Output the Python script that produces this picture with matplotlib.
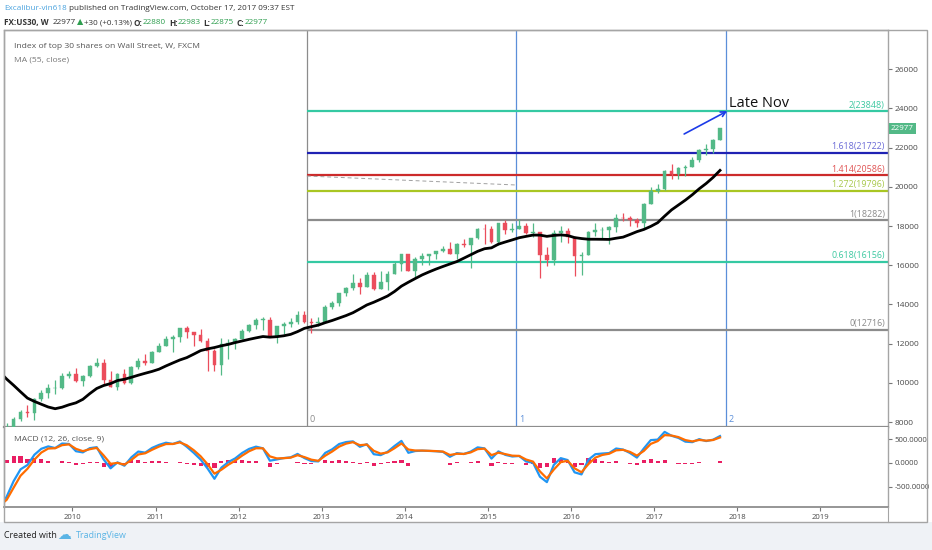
#!/usr/bin/env python3

"""US30 weekly chart with fib extension levels, MA(55) and MACD panel."""

import matplotlib
matplotlib.use("Agg")
import matplotlib.pyplot as plt
import numpy as np
import pandas as pd
from matplotlib import font_manager
from matplotlib.patches import Rectangle

# pick a narrow face if there is one, the screenshot text is squeezed
names = {f.name for f in font_manager.fontManager.ttflist}
face = "Open Sans"
for cand in ["Liberation Sans Narrow", "DejaVu Sans Condensed"]:
    if cand in names:
        face = cand
        break
plt.rcParams["font.family"] = [face, "DejaVu Sans"]

# closes before the visible window, only used to warm up MA / MACD (Jan 2008 - Feb 2009)
hist_closes = [12650, 12266, 12263, 12820, 12638, 11350, 11378, 11544, 10851, 9325,
               8829, 8776, 8001, 7063]

# monthly candles, Mar 2009 - Oct 2017
opens = [7063, 7609, 8168, 8500, 8447, 9172, 9496, 9712, 9713, 10345,
         10428, 10067, 10325, 10857, 11009, 10137, 9774, 10466, 10015, 10788, 11118, 11006,
         11578, 11892, 12226, 12320, 12811, 12570, 12414, 12143, 11614, 10913, 11955, 12046,
         12218, 12633, 12952, 13212, 13214, 12393, 12880, 13009, 13091, 13437, 13096, 13026,
         13104, 13861, 14054, 14579, 14840, 15116, 14910, 15500, 14810, 15130, 15546, 16086,
         16577, 15699, 16322, 16458, 16581, 16717, 16827, 16563, 17098, 17043, 17391, 17828,
         17823, 17165, 18133, 17776, 17841, 18011, 17620, 17690, 16528, 16285, 17664, 17720,
         17425, 16466, 16517, 17685, 17774, 17787, 17930, 18432, 18401, 18308, 18142, 19124,
         19763, 19864, 20812, 20663, 20941, 21009, 21350, 21891, 21948, 22405]
highs = [7925, 8260, 8590, 8880, 9200, 9630, 9920, 10120, 10480, 10580,
         10730, 10400, 10930, 11260, 11210, 10600, 10520, 10720, 10860, 11250, 11450, 11630,
         12020, 12390, 12420, 12810, 12880, 12580, 12750, 12290, 11720, 12280, 12210, 12300,
         12720, 13000, 13290, 13340, 13340, 12900, 13100, 13330, 13650, 13660, 13290, 13350,
         13970, 14150, 14590, 14890, 15540, 15340, 15640, 15660, 15710, 15720, 16170, 16590,
         16590, 16400, 16630, 16590, 16740, 16980, 17160, 17150, 17350, 17400, 17900, 18100,
         18000, 18160, 18290, 18170, 18350, 18140, 18140, 17700, 16930, 17800, 17980, 17900,
         17430, 16670, 17720, 18170, 17930, 18020, 18620, 18670, 18500, 18400, 19150, 19990,
         20130, 20850, 21170, 21000, 21110, 21530, 21930, 22180, 22420, 22983]
lows = [6470, 7550, 8040, 8230, 8090, 9050, 9250, 9430, 9680, 10240,
        10020, 9840, 10300, 10820, 9870, 9770, 9610, 9940, 9960, 10710, 10930, 11000,
        11560, 11860, 11560, 12090, 12300, 11860, 12090, 10600, 10600, 10400, 11230, 11740,
        12220, 12600, 12760, 12710, 12390, 12040, 12490, 12860, 12980, 13070, 12540, 12880,
        13100, 13780, 13940, 14440, 14760, 14550, 14900, 14760, 14780, 14720, 15530, 15700,
        15690, 15340, 16020, 16010, 16330, 16660, 16560, 16330, 16940, 15860, 17320, 17070,
        17140, 17040, 17600, 17670, 17850, 17580, 17450, 15370, 15940, 16010, 17200, 17130,
        15450, 15500, 16510, 17480, 17330, 17060, 17710, 18270, 17990, 17960, 17880, 19100,
        19680, 19830, 20410, 20380, 20550, 21010, 21280, 21600, 21710, 22400]
closes = [7609, 8168, 8500, 8447, 9172, 9496, 9712, 9713, 10345, 10428,
          10067, 10325, 10857, 11009, 10137, 9774, 10466, 10015, 10788, 11118, 11006, 11578,
          11892, 12226, 12320, 12811, 12570, 12414, 12143, 11614, 10913, 11955, 12046, 12218,
          12633, 12952, 13212, 13214, 12393, 12880, 13009, 13091, 13437, 13096, 13026, 13104,
          13861, 14054, 14579, 14840, 15116, 14910, 15500, 14810, 15130, 15546, 16086, 16577,
          15699, 16322, 16458, 16581, 16717, 16827, 16563, 17098, 17043, 17391, 17828, 17823,
          17165, 18133, 17776, 17841, 18011, 17620, 17690, 16528, 16285, 17664, 17720, 17425,
          16466, 16517, 17685, 17774, 17787, 17930, 18432, 18401, 18308, 18142, 19124, 19763,
          19864, 20812, 20663, 20941, 21009, 21350, 21891, 21948, 22405, 22977]

# fib extension drawn on the chart
fib_ratios = ["0", "0.618", "1", "1.272", "1.414", "1.618", "2"]
fib_prices = [12716, 16156, 18282, 19796, 20586, 21722, 23848]
# fib time zones
tz_dates = [2012.82, 2015.34, 2017.86]
tz_labels = ["0", "1", "2"]
# dashed trend line and the arrow with its note
trend_x = [2012.82, 2015.34]
trend_y = [20550, 20092]
arrow_x = [2017.36, 2017.88]
arrow_y = [22694, 23867]
note_xy = (2017.90, 24075)
last_price = 22977

W, H = 932, 550
fig = plt.figure(figsize=(W / 100, H / 100), dpi=100, facecolor="white")
renderer = fig.canvas.get_renderer()


def fx(px):
    return px / W


def fy(py):
    return 1 - py / H


def runs(x0, y0, parts, size):
    """Write text pieces one after another on a line (pixel coords)."""
    x = x0
    for s, col, wt, gap in parts:
        t = fig.text(fx(x), fy(y0), s, color=col, fontsize=size, fontweight=wt,
                     ha="left", va="center")
        x += t.get_window_extent(renderer).width + gap


xlim = (2009.176, 2019.813)
ax = fig.add_axes([fx(4), fy(427), fx(884), 397 / H])
axm = fig.add_axes([fx(4), fy(507), fx(884), 80 / H])

# footer background and outer frame
fig.add_artist(Rectangle((0, 0), 1, fy(522), transform=fig.transFigure,
                         facecolor="#eff2f6", edgecolor="none", zorder=-5))
fig.add_artist(Rectangle((fx(4), fy(522)), fx(923), 492 / H, transform=fig.transFigure,
                         fill=False, edgecolor="#a5a5a5", lw=1.0, zorder=5))
fig.add_artist(plt.Line2D([fx(888), fx(888)], [fy(522), fy(507)],
                          transform=fig.transFigure, color="#a5a5a5", lw=0.8))

# ---- price pane
all_closes = pd.Series(hist_closes + closes, dtype=float)
months = pd.period_range("2008-01", periods=len(all_closes), freq="M")
x_all = np.array([m.year + (m.month - 0.5) / 12 for m in months])
n_hist = len(hist_closes)
xc = x_all[n_hist:]

o = np.array(opens, float)
h = np.array(highs, float)
l = np.array(lows, float)
c = np.array(closes, float)
up = c >= o
cols = np.where(up, "#53b987", "#eb4d5c")
ax.vlines(xc, l, h, colors=cols, lw=0.9, zorder=3)
ax.bar(xc, np.maximum(np.abs(c - o), 25), bottom=np.minimum(o, c), width=0.045,
       color=cols, edgecolor=cols, lw=0.3, zorder=3)

# MA(55 weeks) ~ 13 months
ma = all_closes.rolling(13).mean()
ax.plot(x_all, ma, color="black", lw=2.0, zorder=4)

fib_line_col = {"0": "#8c8c8c", "0.618": "#35c9a3", "1": "#8c8c8c", "1.272": "#a9c623",
                "1.414": "#cc2b2b", "1.618": "#1f22b3", "2": "#35c9a3"}
fib_text_col = {"0": "#8a8a8a", "0.618": "#3cc8a0", "1": "#8a8a8a", "1.272": "#a8c84a",
                "1.414": "#e05252", "1.618": "#6a6ad6", "2": "#3cc8a0"}
for r, p in zip(fib_ratios, fib_prices):
    ax.hlines(p, tz_dates[0], xlim[1], colors=fib_line_col[r], lw=1.6, zorder=2)
    ax.text(0.9965, p + 90, f"{r}({p})", transform=ax.get_yaxis_transform(),
            ha="right", va="bottom", fontsize=6.4, color=fib_text_col[r])

for i, (d, lab) in enumerate(zip(tz_dates, tz_labels)):
    col = "#8c8c8c" if i == 0 else "#5b8fd9"
    ax.axvline(d, color=col, lw=0.9, zorder=1)
    ax.text(d + 0.03, 8120, lab, color=col, fontsize=6.5, ha="left", va="center")

ax.plot(trend_x, trend_y, ls=(0, (4, 3)), color="#a0a0a0", lw=0.7, zorder=2)
ax.annotate("", xy=(arrow_x[1], arrow_y[1]), xytext=(arrow_x[0], arrow_y[0]),
            arrowprops=dict(arrowstyle="->", color="#1c3be8", lw=1.2,
                            mutation_scale=9, shrinkA=0, shrinkB=0), zorder=5)
ax.text(note_xy[0], note_xy[1], "Late Nov", fontsize=10.5, color="#111111",
        ha="left", va="baseline")

ax.set_xlim(xlim)
ax.set_ylim(7745, 28000)
ax.set_xticks([])
ax.yaxis.tick_right()
ax.set_yticks(np.arange(8000, 26001, 2000))
ax.tick_params(axis="y", length=3, width=0.8, color="#777777", labelsize=6,
               labelcolor="#4a4a4a", pad=2)
for s in ax.spines.values():
    s.set_color("#a5a5a5")
    s.set_linewidth(1.0)
ax.spines["bottom"].set_color("#8d8d8d")
ax.spines["bottom"].set_linewidth(1.6)

ax.text(1.003, last_price, str(last_price), transform=ax.get_yaxis_transform(),
        ha="left", va="center", fontsize=5.8, color="white",
        bbox=dict(boxstyle="square,pad=0.25", facecolor="#53b987", edgecolor="none"))

ax.text(fx(10) / fx(884), 1 - 16 / 397, "Index of top 30 shares on Wall Street, W, FXCM",
        transform=ax.transAxes, fontsize=6.1, color="#555555", ha="left", va="center")
ax.text(fx(10) / fx(884), 1 - 30 / 397, "MA (55, close)", transform=ax.transAxes,
        fontsize=6.1, color="#777777", ha="left", va="center")

# ---- MACD pane (weekly 12/26/9 expressed in months)
wpm = 4.345
ema_f = all_closes.ewm(span=12 / wpm, adjust=False).mean()
ema_s = all_closes.ewm(span=26 / wpm, adjust=False).mean()
macd = ema_f - ema_s
signal = macd.ewm(span=9 / wpm, adjust=False).mean()
hist = macd - signal

axm.bar(x_all, hist, width=0.05, color="#e91e63", zorder=2)
axm.plot(x_all, macd, color="#2196f3", lw=1.6, zorder=3)
axm.plot(x_all, signal, color="#ff6d00", lw=1.6, zorder=4)
axm.set_xlim(xlim)
axm.set_ylim(-926, 752)
axm.yaxis.tick_right()
axm.set_yticks([500, 0, -500])
axm.set_yticklabels(["500.0000", "0.0000", "-500.0000"])
axm.set_xticks(np.arange(2010, 2020))
axm.set_xticklabels([str(y) for y in range(2010, 2020)])
axm.tick_params(axis="both", length=3, width=0.8, color="#777777", labelsize=5.6,
                labelcolor="#4a4a4a", pad=2)
for s in axm.spines.values():
    s.set_color("#a5a5a5")
    s.set_linewidth(1.0)
axm.spines["top"].set_visible(False)
axm.spines["bottom"].set_color("#8d8d8d")
axm.spines["bottom"].set_linewidth(1.3)
axm.text(fx(10) / fx(884), 1 - 12 / 80, "MACD (12, 26, close, 9)", transform=axm.transAxes,
         fontsize=6.1, color="#555555", ha="left", va="center")

# ---- header and footer
green = "#2e9e4f"
dark = "#333333"
runs(4, 8, [("Excalibur-vin618", "#4aa3df", "normal", 2),
            ("published on TradingView.com, October 17, 2017 09:37 EST", dark, "normal", 0)],
     5.9)
runs(4, 23, [("FX:US30, W", dark, "bold", 4), ("22977", dark, "normal", 1),
             ("\u25b2", green, "normal", 1), ("+30 (+0.13%)", dark, "normal", 2),
             ("O:", dark, "bold", 0), ("22880", green, "normal", 3),
             ("H:", dark, "bold", 0), ("22983", green, "normal", 3),
             ("L:", dark, "bold", 0), ("22875", green, "normal", 3),
             ("C:", dark, "bold", 0), ("22977", green, "normal", 0)], 5.9)

fig.text(fx(4), fy(536), "Created with", color="#222222", fontsize=6.4, ha="left", va="center")
fig.text(fx(57), fy(535), "\u2601", color="#5ab4e5", fontsize=10, ha="left", va="center",
         family="DejaVu Sans")
fig.text(fx(76), fy(536), "TradingView", color="#5ab4e5", fontsize=6.4, ha="left", va="center")

fig.savefig("out.png", dpi=100, facecolor=fig.get_facecolor())
